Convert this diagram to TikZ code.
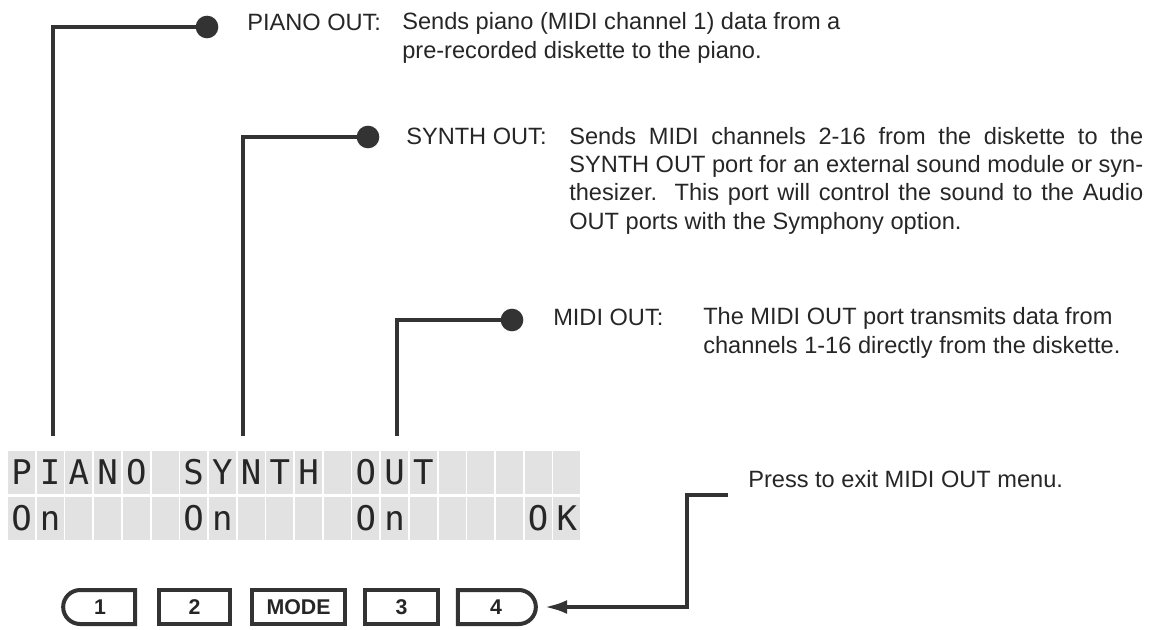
\documentclass[tikz,border=0pt]{standalone}
\usepackage{fontspec}
\setmainfont{Liberation Sans}
\newfontfamily\lcdfont{DejaVu Sans Mono}
\usetikzlibrary{arrows.meta, shapes.misc, positioning}
\definecolor{ink}{HTML}{262626}
\definecolor{wire}{HTML}{333333}
\definecolor{lcdcell}{HTML}{E2E2E2}
\tikzset{
    leader/.style={draw=wire, line width=3pt},
    pin/.style={circle, fill=wire, inner sep=0pt, minimum size=17pt},
    portname/.style={font=\fontsize{17.7pt}{21.2pt}\selectfont, text=ink, inner sep=0pt, anchor=base west},
    portinfo/.style={portname, align=left},
    lcd/.style={rectangle, fill=lcdcell, minimum width=20.25pt, minimum height=32.25pt, inner sep=0pt, text=ink, font=\lcdfont\fontsize{25.5pt}{25.5pt}\selectfont, text height=18.6pt, text depth=0pt},
    key/.style={rectangle, draw=wire, line width=3pt, minimum height=25.5pt, inner sep=0pt, text=ink, font=\bfseries\fontsize{16pt}{16pt}\selectfont},
    keyleft/.style={key, rounded rectangle, rounded rectangle east arc=none},
    keyright/.style={key, rounded rectangle, rounded rectangle west arc=none},
    pointer/.style={draw=wire, line width=3pt, -{Latex[length=17pt, width=10.5pt]}, shorten >=5pt}
}
\newcommand{\fullline}[1]{\makebox[430.5pt][s]{#1}}

\begin{document}
\begin{tikzpicture}[x=0.75pt, y=-0.75pt]
    \useasboundingbox (0,0) rectangle (1166,629);

    % Port descriptions (info nodes sit on the baseline of their last line)
    \node[portname] (pianoName) at (247,30) {PIANO OUT:};
    \node[portinfo] (pianoInfo) at (402,58) {Sends piano (MIDI channel 1) data from a\\pre-recorded diskette to the piano.};

    \node[portname] (synthName) at (406,144) {SYNTH OUT:};
    \node[portinfo] (synthInfo) at (569,229) {\fullline{Sends MIDI channels 2-16 from the diskette to the}\\\fullline{SYNTH OUT port for an external sound module or syn-}\\\fullline{thesizer.\ \ This port will control the sound to the Audio}\\OUT ports with the Symphony option.};

    \node[portname] (midiName) at (553,325) {MIDI OUT:};
    \node[portinfo] (midiInfo) at (703,353) {The MIDI OUT port transmits data from\\channels 1-16 directly from the diskette.};

    \node[portname] (exitNote) at (748,487) {Press to exit MIDI OUT menu.};

    % LCD display
    \foreach \ch [count=\i from 0] in {P,I,A,N,O,,S,Y,N,T,H,,O,U,T,,,,,}
        \node[lcd] (top\i) at (21.5+28.7*\i, 472.5) {\ch};
    \foreach \ch [count=\i from 0] in {O,n,,,,,O,n,,,,,O,n,,,,,O,K}
        \node[lcd] (bot\i) at (21.5+28.7*\i, 518) {\ch};

    % Pins and leaders
    \node[pin] (pianoPin) at (207,27) {};
    \node[pin] (synthPin) at (368,137) {};
    \node[pin] (midiPin) at (512,320) {};
    \coordinate (pianoDrop) at (53,436);
    \coordinate (synthDrop) at (243,436);
    \coordinate (midiDrop) at (397,436);
    \draw[leader] (pianoPin.center) -| (pianoDrop);
    \draw[leader] (synthPin.center) -| (synthDrop);
    \draw[leader] (midiPin.center) -| (midiDrop);

    % Keys
    \node[keyleft, minimum width=54pt] (key1) at (100,607) {1};
    \node[key, minimum width=53.25pt] (key2) at (194.5,607) {2};
    \node[key, minimum width=69.75pt] (keyMode) at (298.5,607) {MODE};
    \node[key, minimum width=54.75pt] (key3) at (401.5,607) {3};
    \node[keyright, minimum width=58.5pt] (key4) at (496,607) {4};

    % Exit pointer
    \coordinate (exitStart) at (728,495);
    \draw[pointer] (exitStart) -- ++(-41,0) |- (key4.east);
\end{tikzpicture}
\end{document}
